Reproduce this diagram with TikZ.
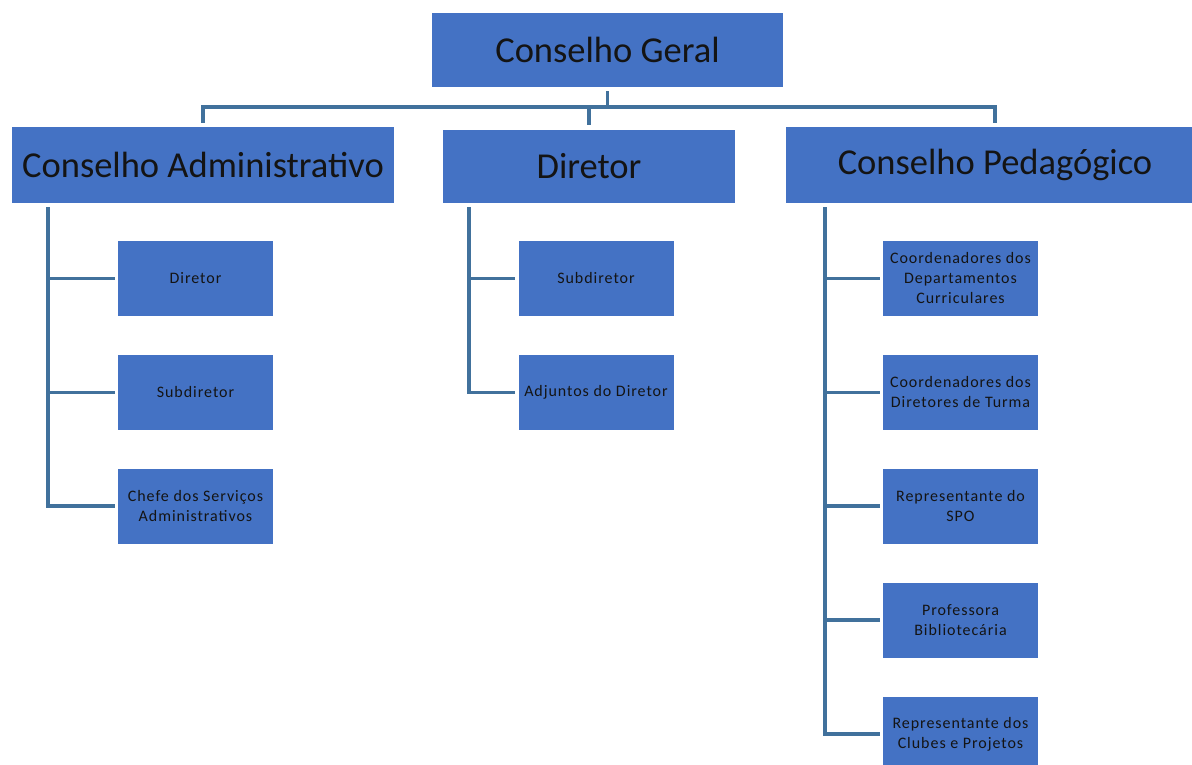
\documentclass[tikz,border=0pt]{standalone}
\usepackage{fontspec}
\setmainfont{Carlito}
\newfontfamily\smallfont[LetterSpace=6]{Carlito}
\usetikzlibrary{calc}
\definecolor{boxblue}{HTML}{4472C4}
\definecolor{linkblue}{HTML}{41719C}
\definecolor{txt}{HTML}{141414}
\tikzset{
  topbox/.style={fill=boxblue, inner sep=0pt, text=txt, font=\fontsize{36.5}{40}\selectfont},
  subbox/.style={fill=boxblue, inner sep=0pt, minimum width=155pt, text=txt, align=center,
                 font=\smallfont\fontsize{16}{20}\selectfont},
  conn/.style={draw=linkblue, line width=3.6pt, line cap=rect}
}
\begin{document}
\begin{tikzpicture}[x=1pt,y=-1pt]
\useasboundingbox (0,0) rectangle (1192,765);
\fill[white] (0,0) rectangle (1192,765);
% top level
\node[topbox, minimum width=351pt, minimum height=74pt] (cg) at (607.5,50) {Conselho Geral};
\node[topbox, minimum width=382pt, minimum height=75pt] (ca) at (203,165) {Conselho Administrativo};
\node[topbox, minimum width=292pt, minimum height=73pt] (dir) at (589,166.5) {Diretor};
\node[topbox, minimum width=418pt, minimum height=75pt] (cp) at (995,165) {};
\node[text=txt, font=\fontsize{36.5}{40}\selectfont] (cpt) at (995,165) {Conselho Pedagógico};
% CA children
\node[subbox, minimum height=75pt] (ca1) at (195.5,278.5) {Diretor};
\node[subbox, minimum height=75pt] (ca2) at (195.5,392.5) {Subdiretor};
\node[subbox, minimum height=75pt] (ca3) at (195.5,506) {Chefe dos Serviços\\Administrativos};
% Diretor children
\node[subbox, minimum height=75pt] (d1) at (596,278.5) {Subdiretor};
\node[subbox, minimum height=75pt] (d2) at (596,392.5) {Adjuntos do Diretor};
% CP children
\node[subbox, minimum height=75pt] (p1) at (960.5,278.5) {Coordenadores dos\\Departamentos\\Curriculares};
\node[subbox, minimum height=75pt] (p2) at (960.5,392.5) {Coordenadores dos\\Diretores de Turma};
\node[subbox, minimum height=75pt] (p3) at (960.5,506) {Representante do\\SPO};
\node[subbox, minimum height=75pt] (p4) at (960.5,620) {Professora\\Bibliotecária};
\node[subbox, minimum height=75pt] (p5) at (960.5,734) {Representante dos\\Clubes e Projetos};
% top connectors
\coordinate (bus) at (0,107);
\draw[conn] ($(cg.south)+(0,6)$) -- (cg.south |- bus);
\draw[conn] (ca.north |- bus) -- (cp.north |- bus);
\draw[conn] (ca.north |- bus) -- ($(ca.north)+(0,-6)$);
\draw[conn] (dir.north |- bus) -- ($(dir.north)+(0,-7)$);
\draw[conn] (cp.north |- bus) -- ($(cp.north)+(0,-6)$);
% CA branch
\coordinate (vca) at ($(ca.south west)+(36,6)$);
\draw[conn] (vca) |- ($(ca3.west)+(-5,0)$);
\draw[conn] (vca |- ca1.west) -- ($(ca1.west)+(-5,0)$);
\draw[conn] (vca |- ca2.west) -- ($(ca2.west)+(-5,0)$);
% Diretor branch
\coordinate (vd) at ($(dir.south west)+(26,6)$);
\draw[conn] (vd) |- ($(d2.west)+(-5,0)$);
\draw[conn] (vd |- d1.west) -- ($(d1.west)+(-5,0)$);
% CP branch
\coordinate (vp) at ($(cp.south west)+(39,6)$);
\draw[conn] (vp) |- ($(p5.west)+(-5,0)$);
\draw[conn] (vp |- p1.west) -- ($(p1.west)+(-5,0)$);
\draw[conn] (vp |- p2.west) -- ($(p2.west)+(-5,0)$);
\draw[conn] (vp |- p3.west) -- ($(p3.west)+(-5,0)$);
\draw[conn] (vp |- p4.west) -- ($(p4.west)+(-5,0)$);
\end{tikzpicture}
\end{document}
